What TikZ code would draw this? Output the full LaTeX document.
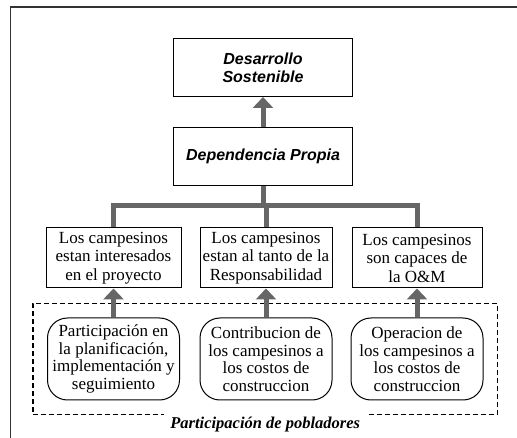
\documentclass[tikz,border=0pt]{standalone}
\usepackage{fontspec}
\setmainfont{Liberation Serif}
\newfontfamily\arialfont{Liberation Sans}
\usetikzlibrary{arrows.meta, positioning, fit}
\definecolor{arrowgray}{HTML}{666666}
\tikzstyle{goalBox} = [draw, rectangle, line width=1pt, minimum width=179pt,
   minimum height=58pt, align=center,
   font=\arialfont\bfseries\itshape\fontsize{16}{18}\selectfont]
\tikzstyle{resultBox} = [draw, rectangle, line width=1pt, minimum height=60pt,
   inner xsep=2pt, align=center, font=\fontsize{17}{18.5}\selectfont]
\tikzstyle{actionBox} = [draw, rounded corners=20pt, line width=1pt,
   minimum width=132pt, minimum height=82pt, align=center,
   font=\fontsize{17}{17.5}\selectfont]
\tikzstyle{upArrow} = [line width=5pt, arrowgray, -{Triangle[width=20pt,length=11pt]}]
\tikzstyle{branch} = [line width=5pt, arrowgray]

\begin{document}
\begin{tikzpicture}[x=1pt,y=1pt]
  \useasboundingbox (0,0) rectangle (517,-438);
  % page frame, cut off at the right and bottom
  \draw[line width=1.2pt, black!80] (10.5,-438) -- (10.5,-7) -- (517,-7);

  \node[goalBox] (goal) at (263,-67.5) {Desarrollo\\Sostenible};
  \node[goalBox, below=30pt of goal] (dep) {Dependencia Propia};

  \node[resultBox, minimum width=132pt] (res2) at (266,-258)
     {Los campesinos\\estan al tanto de la\\Responsabilidad};
  \node[resultBox, minimum width=135pt, left=18pt of res2] (res1)
     {Los campesinos\\estan interesados\\en el proyecto};
  \node[resultBox, minimum width=130pt, right=19pt of res2] (res3)
     {Los campesinos\\son capaces de\\la O\&M};

  \node[actionBox, below=29pt of res1] (act1)
     {Participaci\'on en\\la planificaci\'on,\\implementaci\'on y\\seguimiento};
  \node[actionBox, below=29pt of res2] (act2)
     {Contribucion de\\los campesinos a\\los costos de\\construccion};
  \node[actionBox, below=29pt of res3] (act3)
     {Operacion de\\los campesinos a\\los costos de\\construccion};

  % dashed group round the actions
  \node[draw, dash pattern=on 5pt off 3pt, line width=1.2pt, inner xsep=14pt,
     inner ysep=14pt, fit=(act1) (act3)] (grp) {};
  \node[fill=white, inner xsep=6pt, inner ysep=4pt, yshift=-9pt,
     font=\bfseries\itshape\fontsize{16.5}{18}\selectfont] (lbl) at (grp.south)
     {Participaci\'on de pobladores};

  % arrows
  \draw[upArrow] (dep) -- (goal);
  \coordinate[below=20pt of dep.south] (junc);
  \draw[branch] (dep.south) -- (junc);
  \draw[branch] (res1.north) |- (junc) -| (res3.north);
  \draw[branch] (res2.north |- junc) -- (res2.north);
  \foreach \i in {1,2,3}
    \draw[upArrow] (act\i) -- (res\i);
\end{tikzpicture}
\end{document}
